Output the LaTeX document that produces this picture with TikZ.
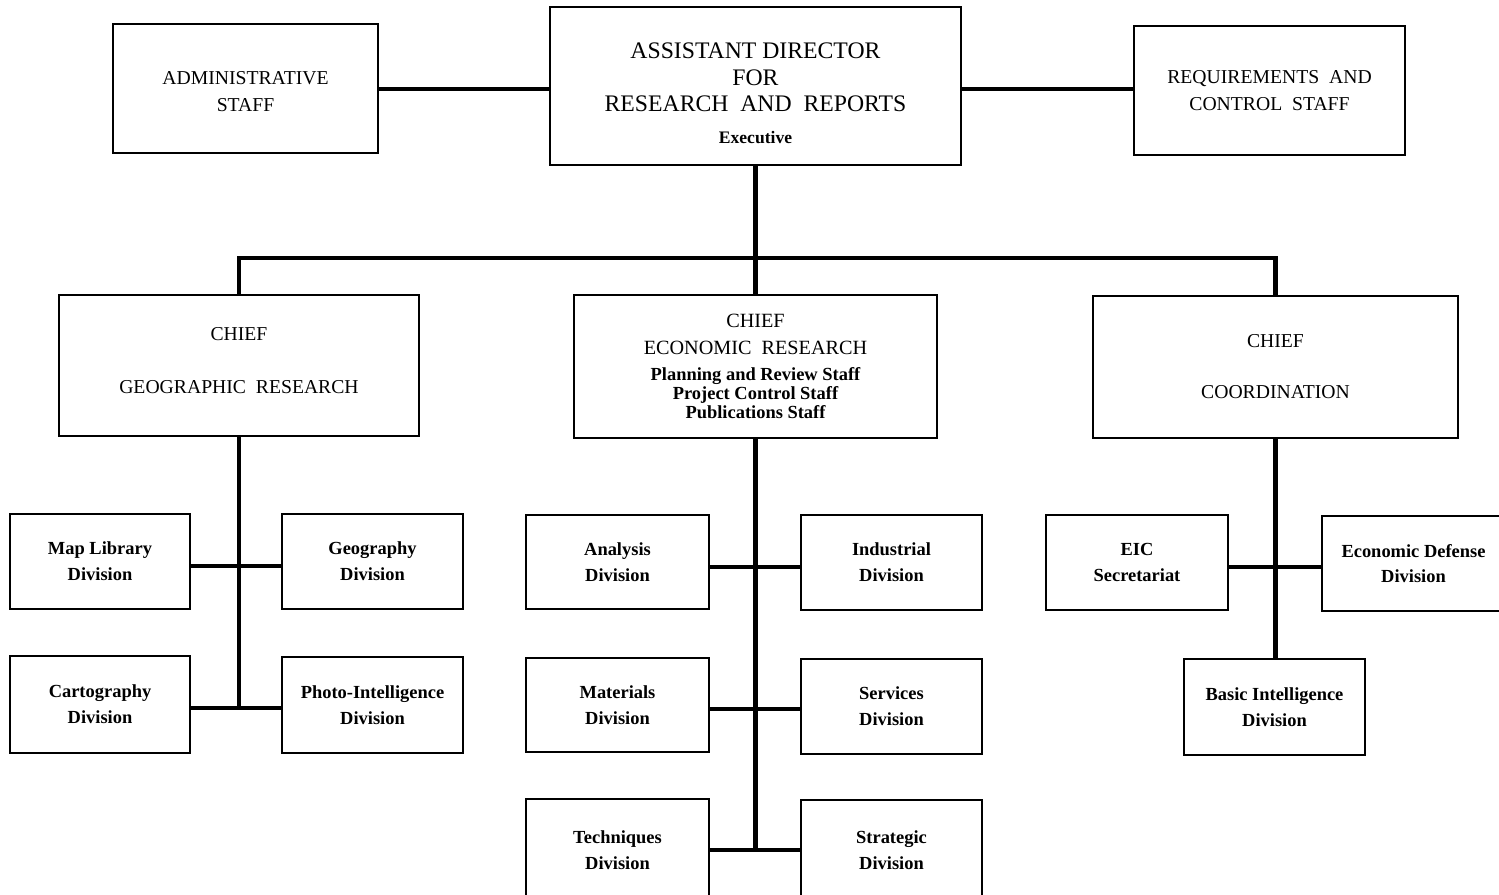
\documentclass[tikz,border=0pt]{standalone}
\usepackage{fontspec}
\setmainfont{Liberation Serif}
\begin{document}
\begin{tikzpicture}[x=0.02cm,y=-0.02cm,
  box/.style={draw,line width=1.2pt,rectangle,inner sep=0pt,align=center,fill=white},
  sz/.style 2 args={minimum width=#1*0.02cm,minimum height=#2*0.02cm},
  conn/.style={line width=2.6pt,line join=miter},
  bigtxt/.style={font=\fontsize{13.5}{15}\selectfont},
  captxt/.style={font=\fontsize{11.2}{15.3}\selectfont},
  divtxt/.style={font=\bfseries\fontsize{10.5}{14.7}\selectfont},
  smalltxt/.style={font=\bfseries\fontsize{10.5}{10.8}\selectfont}]
\useasboundingbox (0,0) rectangle (1499,894);
\clip (0,0) rectangle (1499,894);
% top row
\node[box,sz={265}{129},captxt] (admin) at (245.5,88.5) {\mbox{}\\[-4.5pt]ADMINISTRATIVE\\STAFF};
\node[box,sz={411}{158},bigtxt] (ad) at (755.5,86) {\mbox{}\\[2pt]ASSISTANT DIRECTOR\\FOR\\RESEARCH\ \ AND\ \ REPORTS\\[3pt]{\bfseries\fontsize{10}{12}\selectfont Executive}};
\node[box,sz={271}{129},captxt] (req) at (1269.5,90.5) {REQUIREMENTS\ \ AND\\CONTROL\ \ STAFF};
% chiefs
\node[box,sz={360}{141},captxt] (geo) at (239,365.5) {CHIEF\\[14.7pt]GEOGRAPHIC\ \ RESEARCH\\[-9.6pt]\mbox{}};
\node[box,sz={363}{143},smalltxt] (econ) at (755.5,366.5) {{\mdseries\fontsize{11.5}{11}\selectfont CHIEF}\\[4.5pt]{\mdseries\fontsize{11.5}{11}\selectfont ECONOMIC\ \ RESEARCH}\\[4.5pt]Planning and Review Staff\\Project Control Staff\\Publications Staff};
\node[box,sz={365}{142},captxt] (coord) at (1275.5,367) {CHIEF\\[13.7pt]COORDINATION};
% geographic divisions
\node[box,sz={180}{95},divtxt] (map) at (100,561.5) {Map Library\\Division};
\node[box,sz={181}{95},divtxt] (geog) at (372.5,561.5) {Geography\\Division};
\node[box,sz={180}{97},divtxt] (carto) at (100,704.5) {Cartography\\Division};
\node[box,sz={181}{96},divtxt] (photo) at (372.5,705) {Photo-Intelligence\\Division};
% economic divisions
\node[box,sz={183}{94},divtxt] (anal) at (617.5,562) {Analysis\\Division};
\node[box,sz={181}{95},divtxt] (indus) at (891.5,562.5) {Industrial\\Division};
\node[box,sz={183}{94},divtxt] (mater) at (617.5,705) {Materials\\Division};
\node[box,sz={181}{95},divtxt] (serv) at (891.5,706.5) {Services\\Division};
\node[box,sz={183}{102},divtxt] (tech) at (617.5,850) {Techniques\\Division};
\node[box,sz={181}{100},divtxt] (strat) at (891.5,850) {Strategic\\Division};
% coordination divisions
\node[box,sz={182}{95},divtxt] (eic) at (1137,562.5) {EIC\\Secretariat};
\node[box,sz={183}{95},divtxt] (edef) at (1413.5,563.5) {Economic Defense\\Division};
\node[box,sz={181}{96},divtxt] (basic) at (1274.5,707) {Basic Intelligence\\Division};
% junction coordinates
\coordinate (top) at (757,89);
\coordinate (bus) at (757,258);
\coordinate (gj1) at (239,566);
\coordinate (gj2) at (239,708);
\coordinate (ej1) at (756,567);
\coordinate (ej2) at (756,709);
\coordinate (ej3) at (756,850);
\coordinate (cj1) at (1276,567);
% connectors
\draw[conn] (admin.east |- top) -- (ad.west |- top);
\draw[conn] (ad.east |- top) -- (req.west |- top);
\draw[conn] (ad.south) -- (econ.north);
\draw[conn] (geo.north) -- (geo.north |- bus) -- (coord.north |- bus) -- (coord.north);
\draw[conn] (geo.south) -- (geo.south |- gj2);
\draw[conn] (map.east |- gj1) -- (geog.west |- gj1);
\draw[conn] (carto.east |- gj2) -- (photo.west |- gj2);
\draw[conn] (econ.south) -- (econ.south |- ej3);
\draw[conn] (anal.east |- ej1) -- (indus.west |- ej1);
\draw[conn] (mater.east |- ej2) -- (serv.west |- ej2);
\draw[conn] (tech.east |- ej3) -- (strat.west |- ej3);
\draw[conn] (coord.south) -- (coord.south |- basic.north);
\draw[conn] (eic.east |- cj1) -- (edef.west |- cj1);
\end{tikzpicture}
\end{document}
